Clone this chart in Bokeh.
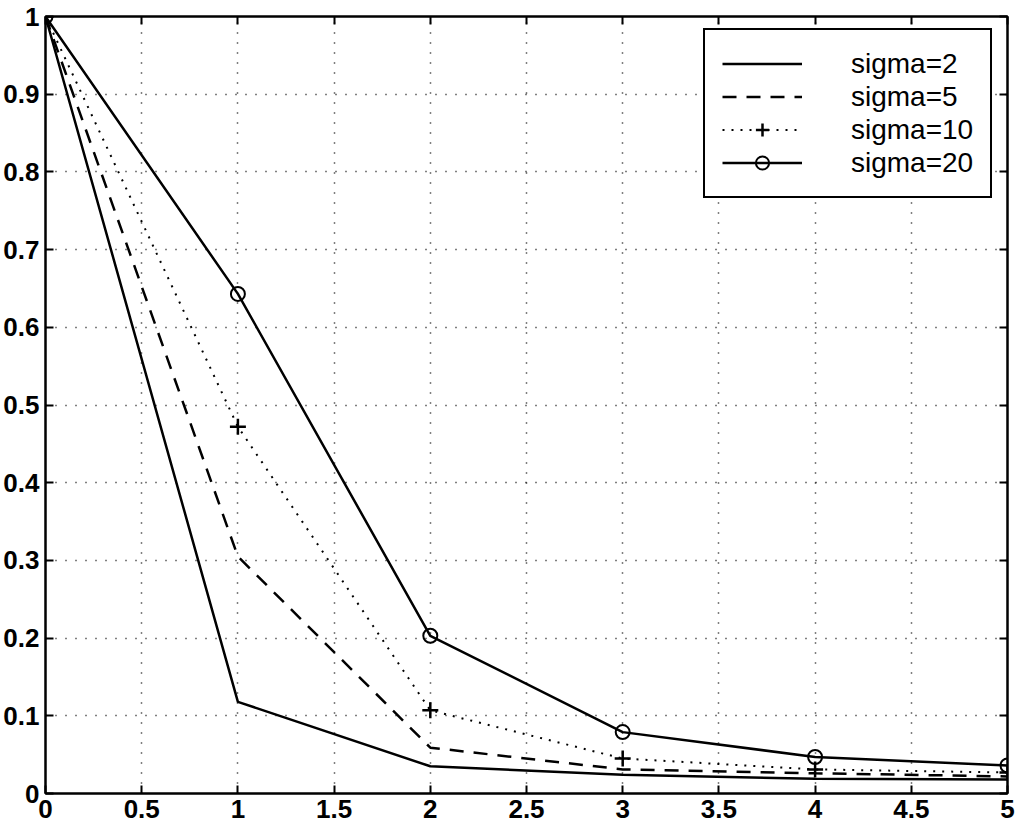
from bokeh.plotting import figure
from bokeh.models import (LinearAxis, FixedTicker, CustomJSTickFormatter, Legend, LegendItem, Range1d)
from bokeh.embed import file_html
from bokeh.resources import INLINE

# data
x = [0, 1, 2, 3, 4, 5]
s2 = [1.0, 0.118, 0.035, 0.024, 0.019, 0.018]
s5 = [1.0, 0.305, 0.059, 0.031, 0.026, 0.022]
s10 = [1.0, 0.472, 0.107, 0.045, 0.031, 0.027]
s20 = [1.0, 0.643, 0.203, 0.079, 0.047, 0.036]
labels = ["sigma=2", "sigma=5", "sigma=10", "sigma=20"]
xticks = [0, 0.5, 1, 1.5, 2, 2.5, 3, 3.5, 4, 4.5, 5]
yticks = [0, 0.1, 0.2, 0.3, 0.4, 0.5, 0.6, 0.7, 0.8, 0.9, 1.0]

FONT = "Liberation Sans"

p = figure(width=1015, height=823, output_backend="svg", toolbar_location=None,
           x_range=Range1d(0, 5), y_range=Range1d(0, 1),
           min_border_left=45, min_border_right=8, min_border_top=16, min_border_bottom=30)
p.background_fill_color = "white"
p.border_fill_color = "white"
p.outline_line_color = "black"
p.outline_line_width = 2

fmt = CustomJSTickFormatter(code="return String(Number(tick.toFixed(2)));")
empty = CustomJSTickFormatter(code="return '';")

for ax in (p.xaxis[0], p.yaxis[0]):
    ax.major_tick_in = 8
    ax.major_tick_out = 0
    ax.minor_tick_in = 0
    ax.minor_tick_out = 0
    ax.axis_line_width = 2
    ax.major_tick_line_width = 2
    ax.major_label_text_font = FONT
    ax.major_label_text_font_style = "bold"
    ax.major_label_text_font_size = "26px"
    ax.major_label_text_color = "black"
    ax.formatter = fmt
p.xaxis[0].ticker = FixedTicker(ticks=xticks)
p.yaxis[0].ticker = FixedTicker(ticks=yticks)
p.xaxis[0].major_label_standoff = 6
p.yaxis[0].major_label_standoff = 6

for loc, ticks in (("right", yticks), ("above", xticks)):
    ax = LinearAxis(ticker=FixedTicker(ticks=ticks), formatter=empty)
    ax.major_tick_in = 8
    ax.major_tick_out = 0
    ax.minor_tick_in = 0
    ax.minor_tick_out = 0
    ax.axis_line_width = 2
    ax.major_tick_line_width = 2
    ax.major_label_standoff = 0
    ax.major_label_text_font_size = "1px"
    p.add_layout(ax, loc)

for g in (p.xgrid[0], p.ygrid[0]):
    g.grid_line_color = "black"
    g.grid_line_dash = "1 9"
    g.grid_line_width = 1.5
p.xgrid[0].ticker = FixedTicker(ticks=xticks)
p.ygrid[0].ticker = FixedTicker(ticks=yticks)

r2 = p.line(x, s2, line_color="black", line_width=2.5)
r5 = p.line(x, s5, line_color="black", line_width=2.5, line_dash="14 10")
r10 = p.line(x, s10, line_color="black", line_width=2, line_dash="2 7")
m10 = p.scatter(x, s10, marker="cross", size=16, line_color="black", line_width=2.5)
r20 = p.line(x, s20, line_color="black", line_width=2.5)
m20 = p.scatter(x, s20, marker="circle", size=14, fill_color=None, line_color="black", line_width=2)

legend = Legend(items=[
    LegendItem(label=labels[0], renderers=[r2]),
    LegendItem(label=labels[1], renderers=[r5]),
    LegendItem(label=labels[2], renderers=[r10, m10]),
    LegendItem(label=labels[3], renderers=[r20, m20]),
], location=(658, 595))
legend.label_text_font = FONT
legend.label_text_font_size = "28px"
legend.label_text_color = "black"
legend.glyph_width = 80
legend.glyph_height = 33
legend.label_height = 33
legend.label_standoff = 49
legend.spacing = 0
legend.padding = 17
legend.margin = 0
legend.border_line_color = "black"
legend.border_line_width = 2
legend.border_line_alpha = 1
legend.background_fill_color = "white"
legend.background_fill_alpha = 1
p.add_layout(legend)

open("out.html", "w").write(file_html(p, INLINE))
